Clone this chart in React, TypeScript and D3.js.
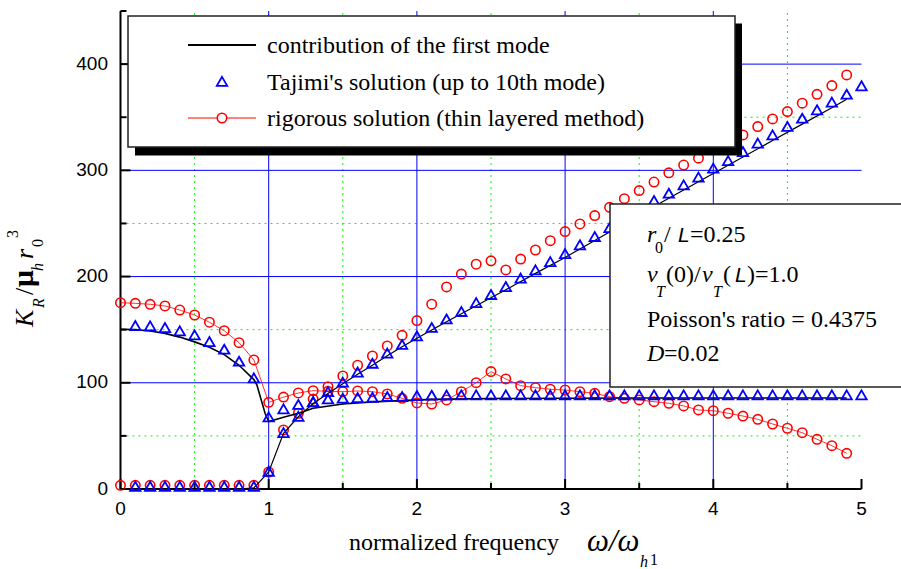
import React from 'react';
import * as d3 from 'd3';

const W = 901;
const H = 569;

// normalized frequency samples
const freqCircles = [0, 0.1, 0.2, 0.3, 0.4, 0.5, 0.6, 0.7, 0.8, 0.9, 1.0, 1.1, 1.2, 1.3, 1.4, 1.5, 1.6, 1.7, 1.8, 1.9, 2.0, 2.1, 2.2, 2.3, 2.4, 2.5, 2.6, 2.7, 2.8, 2.9, 3.0, 3.1, 3.2, 3.3, 3.4, 3.5, 3.6, 3.7, 3.8, 3.9, 4.0, 4.1, 4.2, 4.3, 4.4, 4.5, 4.6, 4.7, 4.8, 4.9];
const freqTriangles = [0.1, 0.2, 0.3, 0.4, 0.5, 0.6, 0.7, 0.8, 0.9, 1.0, 1.1, 1.2, 1.3, 1.4, 1.5, 1.6, 1.7, 1.8, 1.9, 2.0, 2.1, 2.2, 2.3, 2.4, 2.5, 2.6, 2.7, 2.8, 2.9, 3.0, 3.1, 3.2, 3.3, 3.4, 3.5, 3.6, 3.7, 3.8, 3.9, 4.0, 4.1, 4.2, 4.3, 4.4, 4.5, 4.6, 4.7, 4.8, 4.9, 5.0];

// rigorous solution (thin layered method), two branches
const rigorousA = [175.4, 174.8, 173.9, 172.3, 168.5, 163.8, 157, 149, 137.8, 121.5, 81.6, 86.5, 90.4, 92.6, 92, 91.6, 92.3, 91.6, 89.5, 85.4, 81, 80, 83.8, 91.6, 100.1, 110.5, 103.6, 97.3, 95.4, 93.9, 93.2, 91.6, 90.1, 86.9, 85.4, 83.8, 82.2, 80.7, 78.2, 74.4, 73.7, 71.3, 68.7, 65.6, 61.2, 57.2, 53, 46.8, 40.8, 33.6];
const rigorousB = [3.5, 3.5, 3.5, 3.5, 3.5, 3.5, 3.5, 3.5, 3.5, 3.5, 16, 55.6, 71.3, 84.7, 96.3, 106.4, 116.5, 125.2, 134.7, 144.7, 158.6, 174, 190.2, 202.3, 211.6, 214.8, 206.2, 216.5, 225, 233.8, 242.3, 249.5, 257.4, 265.2, 273.3, 280.9, 289, 297.7, 305, 311.4, 320, 327, 333.3, 341.2, 348.4, 355.3, 363.2, 371.6, 379.8, 389.8];

// Tajimi's solution (up to 10th mode), two branches
const tajimiA = [153.8, 153.5, 151.9, 148.8, 145, 138.7, 131.5, 120.2, 104.5, 67.8, 75.3, 79.5, 82.2, 84.7, 85.4, 86, 86.3, 87, 87, 87.9, 88.2, 88.4, 88.5, 88.5, 88.5, 88.5, 88.5, 88.5, 88.5, 88.5, 88.5, 88.5, 88.5, 88.5, 88.5, 88.5, 88.5, 88.5, 88.5, 88.5, 88.5, 88.5, 88.5, 88.5, 88.5, 88.5, 88.5, 88.5, 88.5, 88.5];
const tajimiB = [2.5, 2.5, 2.5, 2.5, 2.5, 2.5, 2.5, 2.5, 2.5, 16.6, 53, 68.3, 82, 91.6, 100.5, 110, 118.3, 127.8, 136, 144, 152, 160, 167, 175.4, 183, 190.5, 198.4, 206.2, 214, 221.5, 229.8, 237.6, 246, 254, 263, 271.5, 278.4, 286.2, 293.5, 302, 309, 317.6, 325.5, 333.3, 341.2, 349, 356.9, 364.1, 371.6, 379.5];

// contribution of the first mode, two branches
const firstModeAFreq = [0, 0.1, 0.2, 0.3, 0.4, 0.5, 0.6, 0.7, 0.8, 0.9, 0.92, 0.976, 1.0, 1.1, 1.2, 1.3, 1.5, 1.7, 1.9, 2.1, 2.5, 3.0, 3.5, 4.0, 4.5, 4.9];
const firstModeA = [150.4, 150, 148.7, 146.5, 143, 138.5, 133.5, 126.5, 116.5, 103, 98, 71, 63.5, 67.5, 71.3, 76, 80, 82, 83.2, 84.4, 85.2, 85.5, 85.6, 85.7, 85.7, 85.7];
const firstModeBFreq = [0, 0.8, 0.9, 1.0, 1.1, 1.2, 1.3, 1.4, 1.5, 1.6, 1.7, 1.8, 1.9, 2.0, 2.2, 2.4, 2.6, 2.8, 3.0, 3.2, 3.4, 3.6, 3.8, 4.0, 4.2, 4.4, 4.6, 4.8, 4.9];
const firstModeB = [0, 0, 1, 16, 52.5, 68, 80.5, 90, 99, 108, 116.5, 125.5, 134, 142, 157.5, 172.5, 187.5, 203, 218, 234, 250, 266, 281.5, 297, 312.5, 328, 343.5, 359, 367];

// axes
const xMajor = [0, 1, 2, 3, 4, 5];
const xMinor = [0.5, 1.5, 2.5, 3.5, 4.5];
const yMajor = [0, 100, 200, 300, 400];
const yMinor = [50, 150, 250, 350, 450];
const xGridSolid = [1, 2, 3, 4];
const yGridSolid = [100, 200, 300, 400];
const yGridDotted = [50, 150, 250, 350];

const legendLabels = [
  'contribution of the first mode',
  "Tajimi's solution (up to 10th mode)",
  'rigorous solution (thin layered method)',
];

const SERIF = '"Liberation Serif", "Times New Roman", serif';
const SANS = '"Liberation Sans", Arial, sans-serif';

export default function App() {
  const x = d3.scaleLinear().domain([0, 5]).range([120.5, 861.5]);
  const y = d3.scaleLinear().domain([0, 450]).range([489, 11]);

  const line = d3
    .line<[number, number]>()
    .x((d) => x(d[0]))
    .y((d) => y(d[1]));

  const zip = (xs: number[], ys: number[]) => xs.map((v, i) => [v, ys[i]] as [number, number]);

  const tri = (cx: number, cy: number) => `M${cx},${cy - 4.6}L${cx + 5.2},${cy + 4.4}L${cx - 5.2},${cy + 4.4}Z`;

  const x0 = x(0);
  const y0 = y(0);

  return (
    <svg width={W} height={H} style={{ position: 'absolute', left: 0, top: 0, background: '#fff' }}>
      <rect x={0} y={0} width={W} height={H} fill="#fff" />
      {/* grid */}
      <g>
        {xMinor.map((v) => (
          <line key={'gx' + v} x1={x(v)} x2={x(v)} y1={y(0)} y2={y(450)} stroke="#00ff00" strokeWidth={1} strokeDasharray="2,4" />
        ))}
        {yGridDotted.map((v) => (
          <line key={'gy' + v} x1={x(0)} x2={x(5)} y1={y(v)} y2={y(v)} stroke="#00ff00" strokeWidth={1} strokeDasharray="2,4" />
        ))}
        {xGridSolid.map((v) => (
          <line key={'bx' + v} x1={x(v)} x2={x(v)} y1={y(0)} y2={y(450)} stroke="#0000ff" strokeWidth={1} />
        ))}
        {yGridSolid.map((v) => (
          <line key={'by' + v} x1={x(0)} x2={x(5)} y1={y(v)} y2={y(v)} stroke="#0000ff" strokeWidth={1} />
        ))}
      </g>

      {/* axes */}
      <g stroke="#000" strokeWidth={2}>
        <line x1={x0} x2={x0} y1={y(0)} y2={y(450)} />
        <line x1={x(0)} x2={x(5)} y1={y0} y2={y0} />
        {xMajor.map((v) => (
          <line key={'xt' + v} x1={x(v)} x2={x(v)} y1={y0} y2={y0 - 10} />
        ))}
        {xMinor.map((v) => (
          <line key={'xm' + v} x1={x(v)} x2={x(v)} y1={y0} y2={y0 - 6} />
        ))}
        {yMajor.map((v) => (
          <line key={'yt' + v} x1={x0} x2={x0 + 10} y1={y(v)} y2={y(v)} />
        ))}
        {yMinor.map((v) => (
          <line key={'ym' + v} x1={x0} x2={x0 + 6} y1={y(v)} y2={y(v)} />
        ))}
      </g>

      {/* rigorous solution */}
      <g>
        <path d={line(zip(freqCircles, rigorousA)) || ''} fill="none" stroke="#ff0000" strokeWidth={0.8} />
        {freqCircles.map((f, i) => (
          <circle key={'ca' + i} cx={x(f)} cy={y(rigorousA[i])} r={4.7} fill="none" stroke="#ff0000" strokeWidth={1.6} />
        ))}
        {freqCircles.map((f, i) => (
          <circle key={'cb' + i} cx={x(f)} cy={y(rigorousB[i])} r={4.7} fill="none" stroke="#ff0000" strokeWidth={1.6} />
        ))}
      </g>

      {/* first mode */}
      <g>
        <path d={line(zip(firstModeAFreq, firstModeA)) || ''} fill="none" stroke="#000" strokeWidth={1.6} />
        <path d={line(zip(firstModeBFreq, firstModeB)) || ''} fill="none" stroke="#000" strokeWidth={1.2} />
      </g>

      {/* Tajimi */}
      <g>
        {freqTriangles.map((f, i) => (
          <path key={'ta' + i} d={tri(x(f), y(tajimiA[i]))} fill="none" stroke="#0000ff" strokeWidth={1.8} strokeLinejoin="miter" />
        ))}
        {freqTriangles.map((f, i) => (
          <path key={'tb' + i} d={tri(x(f), y(tajimiB[i]))} fill="none" stroke="#0000ff" strokeWidth={1.8} strokeLinejoin="miter" />
        ))}
      </g>

      {/* tick labels */}
      <g fontFamily={SANS} fontSize={19} fill="#000">
        {xMajor.map((v) => (
          <text key={'xl' + v} x={x(v)} y={515} textAnchor="middle">
            {String(v)}
          </text>
        ))}
        {yMajor.map((v) => (
          <text key={'yl' + v} x={108} y={y(v) + 5.5} textAnchor="end">
            {String(v)}
          </text>
        ))}
      </g>

      {/* legend */}
      <g>
        <rect x={135} y={23.5} width={607} height={132} fill="#000" />
        <rect x={128} y={16} width={607} height={131} fill="#fff" stroke="#222" strokeWidth={1.5} />
        <line x1={188} x2={256} y1={45} y2={45} stroke="#000" strokeWidth={2} />
        <path d={tri(222, 81.5)} fill="none" stroke="#0000ff" strokeWidth={1.8} />
        <line x1={188} x2={256} y1={118} y2={118} stroke="#ff0000" strokeWidth={1} />
        <circle cx={222} cy={118} r={4.7} fill="#fff" stroke="#ff0000" strokeWidth={1.6} />
        <g fontFamily={SERIF} fontSize={24} fill="#000">
          <text x={267} y={53}>{legendLabels[0]}</text>
          <text x={267} y={89.5}>{legendLabels[1]}</text>
          <text x={267} y={126}>{legendLabels[2]}</text>
        </g>
      </g>

      {/* annotation */}
      <g>
        <rect x={610} y={204} width={300} height={183} fill="#fff" stroke="#222" strokeWidth={1.5} />
        <g fontFamily={SERIF} fontSize={24} fill="#000">
          <text x={647} y={242} fontStyle="italic">r</text>
          <text x={655} y={253} fontSize={16}>0</text>
          <text x={664} y={242}>/</text>
          <text x={678} y={242} fontFamily={SANS} fontStyle="italic" fontSize={21}>L</text>
          <text x={690} y={242}>=0.25</text>

          <text x={647} y={282} fontStyle="italic">v</text>
          <text x={656} y={297} fontSize={16} fontStyle="italic">T</text>
          <text x={666} y={282}>(0)/</text>
          <text x={702} y={282} fontStyle="italic">v</text>
          <text x={713} y={297} fontSize={16} fontStyle="italic">T</text>
          <text x={723} y={282}>(</text>
          <text x={735} y={282} fontFamily={SANS} fontStyle="italic" fontSize={21}>L</text>
          <text x={747} y={282}>)=1.0</text>

          <text x={647} y={327}>Poisson's ratio = 0.4375</text>

          <text x={647} y={361} fontStyle="italic">D</text>
          <text x={664} y={361}>=0.02</text>
        </g>
      </g>

      {/* x axis title */}
      <g fontFamily={SERIF} fill="#000">
        <text x={349} y={550} fontSize={24}>normalized frequency</text>
        <text x={587} y={551} fontSize={31} fontStyle="italic">ω/ω</text>
        <text x={640} y={567} fontSize={16} fontStyle="italic">h</text>
        <text x={650} y={565} fontSize={16}>1</text>
      </g>

      {/* y axis title */}
      <g transform="translate(33,327) rotate(-90)" fontFamily={SERIF} fill="#000">
        <text x={0} y={0} fontSize={26} fontStyle="italic">K</text>
        <text x={19} y={11} fontSize={16} fontStyle="italic">R</text>
        <text x={32} y={0} fontSize={26}>/</text>
        <text x={40} y={0} fontSize={30} fontWeight="bold">μ</text>
        <text x={56} y={10} fontSize={16} fontStyle="italic">h</text>
        <text x={68} y={0} fontSize={26} fontStyle="italic">r</text>
        <text x={80} y={10} fontSize={16}>0</text>
        <text x={89} y={-15} fontSize={16}>3</text>
      </g>
    </svg>
  );
}
